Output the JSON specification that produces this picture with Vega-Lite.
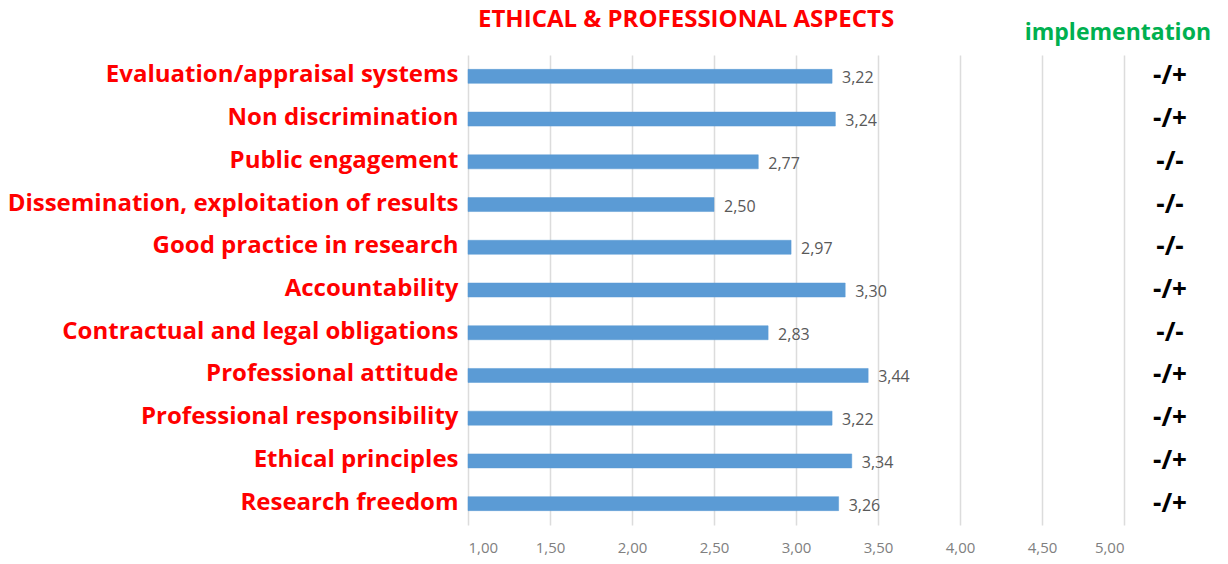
{
  "$schema": "https://vega.github.io/schema/vega-lite/v6.json",
  "background": "white",
  "padding": {"left": 7, "top": 8, "right": 5, "bottom": 5},
  "bounds": "flush",
  "data": {
    "values": [
      {"aspect": "Evaluation/appraisal systems", "score": 3.22, "impl": "-/+"},
      {"aspect": "Non discrimination", "score": 3.24, "impl": "-/+"},
      {"aspect": "Public engagement", "score": 2.77, "impl": "-/-"},
      {"aspect": "Dissemination, exploitation of results", "score": 2.50, "impl": "-/-"},
      {"aspect": "Good practice in research", "score": 2.97, "impl": "-/-"},
      {"aspect": "Accountability", "score": 3.30, "impl": "-/+"},
      {"aspect": "Contractual and legal obligations", "score": 2.83, "impl": "-/-"},
      {"aspect": "Professional attitude", "score": 3.44, "impl": "-/+"},
      {"aspect": "Professional responsibility", "score": 3.22, "impl": "-/+"},
      {"aspect": "Ethical principles", "score": 3.34, "impl": "-/+"},
      {"aspect": "Research freedom", "score": 3.26, "impl": "-/+"}
    ]
  },
  "spacing": 0,
  "hconcat": [
    {
      "width": 656,
      "height": 470,
      "title": {"text": "ETHICAL & PROFESSIONAL ASPECTS", "anchor": "start", "frame": "group", "dx": 10, "color": "#ff0000", "fontSize": 24, "font": "Open Sans", "fontWeight": "bold", "offset": 23},
      "transform": [{"calculate": "replace(format(datum.score, '.2f'), '.', ',')", "as": "lbl"}],
      "encoding": {
        "y": {"field": "aspect", "type": "nominal", "sort": null, "title": null,
          "axis": {"labelColor": "#ff0000", "labelFont": "Open Sans", "labelFontSize": 24, "labelFontWeight": "bold", "labelPadding": 10, "labelBaseline": "middle", "labelOffset": -1, "ticks": false, "domain": false, "labelLimit": 600}}
      },
      "layer": [
        {
          "mark": {"type": "bar", "color": "#5b9bd5", "size": 14, "stroke": "#5b9bd5", "strokeWidth": 0.5},
          "encoding": {
            "x": {"field": "score", "type": "quantitative", "scale": {"domain": [1, 5], "zero": false, "nice": false}, "title": null,
              "axis": {"values": [1, 1.5, 2, 2.5, 3, 3.5, 4, 4.5, 5], "labelExpr": "replace(format(datum.value, '.2f'), '.', ',')", "grid": true, "gridColor": "#dcdcdc", "gridWidth": 1.5, "domain": false, "ticks": false, "labelColor": "#808080", "labelFontSize": 15, "labelFont": "Open Sans", "labelPadding": 15}},
            "x2": {"datum": 1}
          }
        },
        {
          "mark": {"type": "text", "align": "left", "dx": 10, "dy": 2, "fontSize": 16, "font": "Open Sans", "color": "#595959"},
          "encoding": {
            "x": {"field": "score", "type": "quantitative"},
            "text": {"field": "lbl"}
          }
        }
      ]
    },
    {
      "width": 92,
      "height": 470,
      "title": {"text": "implementation", "anchor": "end", "dx": -5, "color": "#00b050", "fontSize": 23, "font": "Open Sans", "fontWeight": "bold", "offset": 10},
      "mark": {"type": "text", "fontSize": 26, "font": "Open Sans", "fontWeight": "bold", "color": "#000000"},
      "encoding": {
        "y": {"field": "aspect", "type": "nominal", "sort": null, "axis": null},
        "text": {"field": "impl"}
      }
    }
  ],
  "config": {"view": {"stroke": null}}
}
